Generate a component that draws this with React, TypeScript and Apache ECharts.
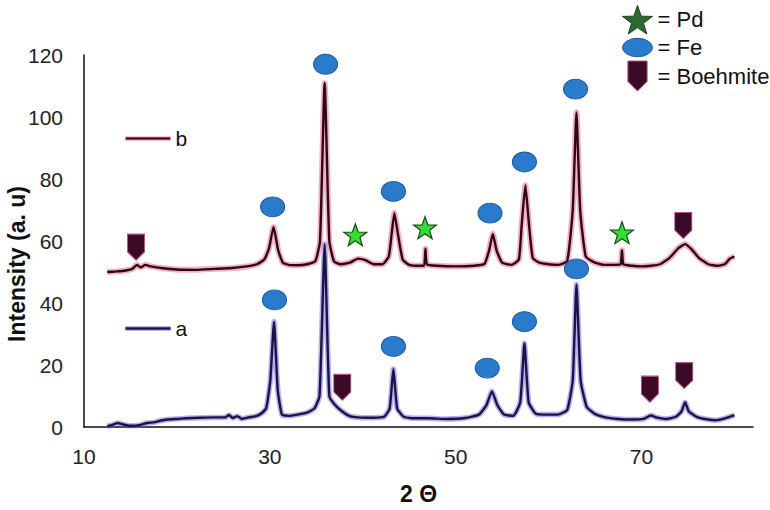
import React, { useEffect, useRef } from "react";
import * as echarts from "echarts";

// ---- data ----
const xTicks = [10, 30, 50, 70];
const yTicks = [0, 20, 40, 60, 80, 100, 120];

const curveB: number[][] = [
  [12.5, 50], [13.5, 50.2], [14.5, 50.5], [15.2, 51], [15.7, 52.3], [16.1, 51.5], [16.6, 52.3], [17.2, 51.8],
  [18.5, 51.2], [20, 50.8], [22, 50.7], [24, 51], [26, 51.3], [27.5, 51.8], [28.6, 52.5], [29.4, 54],
  [29.9, 57.5], [30.4, 64.5], [30.9, 57], [31.4, 53], [32, 52.3], [33, 52.2], [34, 52.5], [34.9, 53.5],
  [35.4, 60], [35.9, 111], [36.4, 60], [36.9, 53.5], [37.6, 52.5], [38.6, 53], [39.5, 54.3], [40.3, 53.8],
  [41.2, 52.5], [42.1, 52.5], [42.8, 55], [43.1, 62], [43.4, 69], [43.8, 62], [44.3, 54], [45, 52.3],
  [46, 52], [46.6, 52], [46.75, 57.5], [46.9, 52.5], [48, 52], [50, 51.8], [52, 52], [53.1, 52.6],
  [53.6, 57], [54, 62.3], [54.4, 57], [55, 53], [56, 52.3], [56.8, 54], [57.1, 65], [57.5, 78],
  [57.9, 65], [58.3, 54.5], [59, 53], [60, 52.5], [61, 52.3], [62, 53.5], [62.6, 70], [63, 101.5],
  [63.4, 70], [64, 55], [65, 53], [66, 52.3], [67, 52.3], [67.75, 52.5], [67.9, 57], [68.05, 52.5],
  [69, 52], [70, 51.8], [71, 52], [72, 52.5], [73, 54.5], [74, 57.8], [74.7, 59], [75.4, 57.3],
  [76.2, 54.5], [77.2, 52.5], [78.2, 52], [79, 52.6], [79.5, 54.3], [80, 55]
];

const curveA: number[][] = [
  [12.5, 0.3], [13, 0.6], [13.6, 1.3], [14.2, 0.8], [15, 0.4], [16, 0.6], [16.8, 1.3], [17.5, 1.5],
  [18.3, 2.1], [19, 2.4], [20, 2.6], [21, 2.8], [22.5, 3], [24, 3.1], [25.2, 3.1], [25.6, 3.9],
  [26, 2.9], [26.5, 3.5], [27, 2.6], [27.7, 3.1], [28.4, 3.4], [29, 4.2], [29.6, 6], [30.05, 15],
  [30.45, 34], [30.85, 12], [31.3, 4], [32, 3.6], [33, 4], [34, 4.6], [34.8, 6], [35.35, 10],
  [35.9, 59], [36.4, 10], [37, 7.2], [37.8, 5], [38.6, 3.5], [39.5, 3.1], [41, 3], [42.3, 3.3],
  [42.9, 6], [43.3, 18.7], [43.7, 6], [44.4, 3.3], [45.5, 2.8], [47, 2.8], [49, 2.6], [51, 2.9],
  [52.5, 4], [53.3, 7], [53.9, 11.5], [54.5, 7], [55.2, 4], [56.2, 3.6], [56.95, 8], [57.4, 27],
  [57.85, 8], [58.6, 4.3], [59.5, 4], [61, 4], [62, 5.5], [62.6, 15], [63, 46], [63.45, 15],
  [64.1, 6.5], [65, 4.2], [66, 3.2], [67.5, 2.6], [69, 2.4], [70.2, 2.6], [71, 3.7], [71.7, 3],
  [72.7, 2.6], [73.7, 3.3], [74.3, 5], [74.7, 8], [75.1, 5], [76, 3.2], [77, 2.5], [78, 2.2],
  [79, 2.8], [80, 3.8]
];

const fePoints: number[][] = [
  [30.3, 71], [36.0, 117], [43.3, 76], [53.7, 69], [57.4, 85.5], [62.9, 109],
  [30.5, 41], [43.3, 26], [53.4, 19], [57.4, 34], [63.0, 51]
];
const pdPoints: number[][] = [[39.2, 62], [46.7, 64.3], [67.9, 62.7]];
const boehmitePoints: number[][] = [[15.6, 58], [37.8, 12.8], [70.9, 12.2], [74.6, 16.6], [74.5, 65]];

const seriesNames = { a: "a", b: "b" };
const phaseNames = ["Pd", "Fe", "Boehmite"];

// ---- symbols ----
const STAR =
  "path://M50,0 L61.76,33.82 L97.55,34.55 L69.02,56.18 L79.39,90.45 L50,70 L20.61,90.45 L30.98,56.18 L2.45,34.55 L38.24,33.82 Z";
const ELLIPSE = "path://M0,10 A12,10 0 1 1 24,10 A12,10 0 1 1 0,10 Z";
const ELLIPSE_LEG = "path://M0,8 A13,8 0 1 1 26,8 A13,8 0 1 1 0,8 Z";
const SHIELD = "path://M0,0 L16,0 L16,17 L8,25 L0,17 Z";

const FONT = "Liberation Sans, Arial, sans-serif";

export default function App() {
  const ref = useRef<HTMLDivElement>(null);
  useEffect(() => {
    if (!ref.current) return;
    const chart = echarts.init(ref.current, undefined, { renderer: "svg" });
    chart.setOption({
      animation: false,
      backgroundColor: "#ffffff",
      textStyle: { fontFamily: FONT },
      grid: { left: 84, right: 17, top: 55, bottom: 80, containLabel: false },
      xAxis: {
        type: "value",
        min: 10,
        max: 82,
        interval: 20,
        name: "2 \u0398",
        nameLocation: "middle",
        nameGap: 55,
        nameTextStyle: { fontSize: 23, fontWeight: "bold", color: "#111", fontFamily: FONT },
        axisLine: { show: true, lineStyle: { color: "#111", width: 1.5 } },
        axisTick: { show: false },
        splitLine: { show: false },
        axisLabel: {
          fontSize: 21,
          color: "#222",
          margin: 19,
          showMaxLabel: false,
          fontFamily: FONT,
          formatter: (v: number) => (xTicks.includes(v) ? String(v) : "")
        }
      },
      yAxis: {
        type: "value",
        min: 0,
        max: 120,
        interval: 20,
        axisLine: { show: true, lineStyle: { color: "#111", width: 1.5 } },
        axisTick: { show: false },
        splitLine: { show: false },
        axisLabel: {
          fontSize: 21,
          color: "#222",
          margin: 21,
          fontFamily: FONT,
          formatter: (v: number) => (yTicks.includes(v) ? String(v) : "")
        }
      },
      legend: [
        {
          left: 120,
          top: 123,
          orient: "horizontal",
          data: [{ name: seriesNames.b, icon: "rect", itemStyle: { color: "#2a0a14", borderColor: "#f080a8", borderWidth: 1 } }],
          itemWidth: 45,
          itemHeight: 3,
          itemGap: 4,
          textStyle: { fontSize: 21, color: "#111", fontFamily: FONT },
          selectedMode: false
        },
        {
          left: 120,
          top: 313,
          orient: "horizontal",
          data: [{ name: seriesNames.a, icon: "rect", itemStyle: { color: "#1a1440", borderColor: "#7868d8", borderWidth: 1 } }],
          itemWidth: 45,
          itemHeight: 3,
          itemGap: 4,
          textStyle: { fontSize: 21, color: "#111", fontFamily: FONT },
          selectedMode: false
        },
        {
          left: 617,
          top: 0,
          orient: "vertical",
          itemWidth: 30,
          itemHeight: 30,
          itemGap: 2,
          formatter: (n: string) => "= " + n,
          textStyle: { fontSize: 22, color: "#111", fontFamily: FONT },
          selectedMode: false,
          data: [
            { name: phaseNames[0], icon: STAR, itemStyle: { color: "#2d6a2d", borderColor: "#1c3f1c", borderWidth: 1 } },
            { name: phaseNames[1], icon: ELLIPSE_LEG, itemStyle: { color: "#2b7bcc", borderColor: "#1c5a9a", borderWidth: 1 } },
            { name: phaseNames[2], icon: SHIELD, itemStyle: { color: "#3a0a26", borderColor: "#b05080", borderWidth: 1 } }
          ]
        }
      ],
      graphic: [
        {
          type: "text",
          x: 17,
          y: 264,
          rotation: Math.PI / 2,
          style: {
            text: "Intensity (a. u)",
            font: "bold 23px " + FONT,
            fill: "#111",
            textAlign: "center",
            textVerticalAlign: "middle"
          }
        }
      ],
      series: [
        {
          name: "a-glow",
          type: "line",
          data: curveA,
          showSymbol: false,
          smooth: 0.15,
          silent: true,
          z: 1,
          lineStyle: { color: "rgba(100,80,230,0.45)", width: 5.5 }
        },
        {
          name: seriesNames.a,
          type: "line",
          data: curveA,
          showSymbol: false,
          smooth: 0.15,
          silent: true,
          z: 2,
          itemStyle: { color: "#1a1440" },
          lineStyle: { color: "#1a1440", width: 2.4 }
        },
        {
          name: "b-glow",
          type: "line",
          data: curveB,
          showSymbol: false,
          smooth: 0.15,
          silent: true,
          z: 3,
          lineStyle: { color: "rgba(240,110,150,0.55)", width: 6 }
        },
        {
          name: seriesNames.b,
          type: "line",
          data: curveB,
          showSymbol: false,
          smooth: 0.15,
          silent: true,
          z: 4,
          itemStyle: { color: "#2a0a14" },
          lineStyle: { color: "#2a0a14", width: 2.4 }
        },
        {
          name: phaseNames[0],
          type: "scatter",
          data: pdPoints,
          symbol: STAR,
          symbolSize: [23, 22],
          z: 5,
          silent: true,
          itemStyle: { color: "#33dd33", borderColor: "#1d4a1d", borderWidth: 1.2, opacity: 1 }
        },
        {
          name: phaseNames[1],
          type: "scatter",
          data: fePoints,
          symbol: ELLIPSE,
          symbolSize: [24, 20],
          z: 5,
          silent: true,
          itemStyle: { color: "#2b7bcc", borderColor: "#1c5a9a", borderWidth: 1, opacity: 1 }
        },
        {
          name: phaseNames[2],
          type: "scatter",
          data: boehmitePoints,
          symbol: SHIELD,
          symbolSize: [17, 26],
          z: 5,
          silent: true,
          itemStyle: { color: "#3a0a26", borderColor: "#b05080", borderWidth: 1, opacity: 1 }
        }
      ]
    });
    return () => chart.dispose();
  }, []);
  return <div ref={ref} style={{ width: 770, height: 510, position: "absolute", left: 0, top: 0 }} />;
}
